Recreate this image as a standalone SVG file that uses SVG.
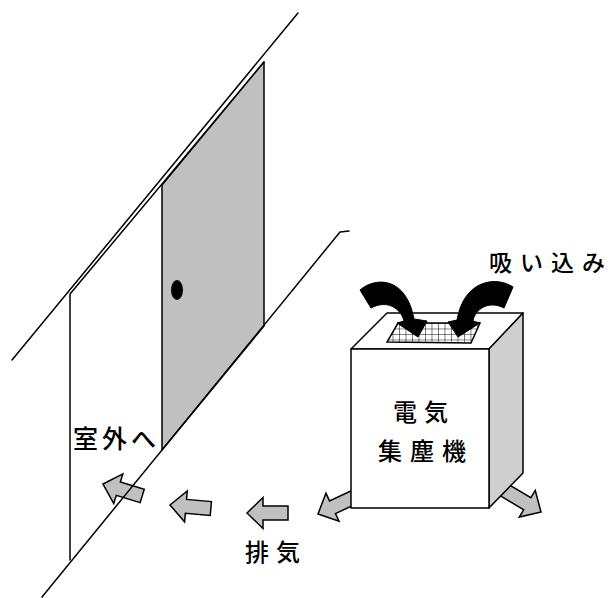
<svg xmlns="http://www.w3.org/2000/svg" width="612" height="598" viewBox="0 0 612 598">
  <style>
    .ln { fill: none; stroke: #000; stroke-width: 1.5; stroke-linecap: round; stroke-linejoin: round; }
    .door { fill: #c0c0c0; stroke: #000; stroke-width: 1.5; stroke-linejoin: round; }
    .face { fill: #fff; stroke: #000; stroke-width: 1.5; stroke-linejoin: round; }
    .side { fill: #cfcfcf; stroke: #000; stroke-width: 1.5; stroke-linejoin: round; }
    .exh { fill: #c0c0c0; stroke: #000; stroke-width: 1.5; stroke-linejoin: miter; }
    .suck { fill: #000; stroke: #000; stroke-width: 1; stroke-linejoin: miter; }
    .lbl { font-family: "Noto Sans CJK JP", "Noto Sans", sans-serif; font-weight: 500; fill: #000; }
  </style>
  <defs>
    <!-- block arrow, tip at origin, pointing toward -x -->
    <path id="blockArrow" d="M0,0 L16,-15.5 L16,-7 L41,-7 L41,7 L16,7 L16,15.5 Z"/>
    <path id="blockArrowLong" d="M0,0 L16,-15.5 L16,-7 L60,-7 L60,7 L16,7 L16,15.5 Z"/>
    <pattern id="mesh" patternUnits="userSpaceOnUse" width="6.5" height="5.5" x="386" y="323">
      <rect width="6.5" height="5.5" fill="#fff"/>
      <path d="M0,0 H6.5 M0,0 V5.5" stroke="#000" stroke-width="1" fill="none"/>
    </pattern>
  </defs>

  <!-- wall and doorway -->
  <g id="wall">
    <line class="ln" x1="298" y1="13" x2="12" y2="360"/>
    <polyline class="ln" points="264,62 70,294 70,560"/>
    <polygon class="door" points="162,185 264,62 264,326 162,450"/>
    <ellipse cx="177" cy="290" rx="6" ry="10" fill="#000"/>
  </g>

  <!-- exhaust flow arrows -->
  <g id="exhaust">
    <use href="#blockArrow" class="exh" transform="translate(103,484) rotate(17)"/>
    <use href="#blockArrow" class="exh" transform="translate(170,505) rotate(5)"/>
    <use href="#blockArrow" class="exh" transform="translate(247,513)"/>
    <use href="#blockArrowLong" class="exh" transform="translate(318,514) rotate(-25)"/>
    <use href="#blockArrowLong" class="exh" transform="translate(541,512) rotate(-149)"/>
  </g>

  <!-- floor line -->
  <g id="floor">
    <polyline class="ln" points="349,231 340,232 42,597"/>
  </g>

  <!-- electric dust collector -->
  <g id="collector">
    <polygon class="face" points="351,349 387,313 523,313 489,349"/>
    <polygon class="side" points="489,349 523,313 523,473 489,508"/>
    <rect class="face" x="351" y="349" width="138" height="159"/>
    <polygon points="398,323 480,323 471,343 387,342" fill="url(#mesh)" stroke="#000" stroke-width="1.5"/>
    <text class="lbl" x="393" y="421" font-size="24" letter-spacing="7">電気</text>
    <text class="lbl" x="378" y="460" font-size="24" letter-spacing="8">集塵機</text>
  </g>

  <!-- intake arrows -->
  <g id="intake">
    <path class="suck" d="M360,290 C375,277 406,276 414,319 L427,321 L418,337 L397,323 L404,321 C401,309 388,299 371,308 Z"/>
    <path class="suck" d="M513,287 C497,276 464,279 457,320 L448,322 L458,337 L480,323 L473,321 C475,309 489,300 504,308 Z"/>
  </g>

  <!-- labels -->
  <g id="labels">
    <text class="lbl" x="489" y="271" font-size="23" letter-spacing="8">吸い込み</text>
    <text class="lbl" x="73" y="448" font-size="25" letter-spacing="4">室外へ</text>
    <text class="lbl" x="245" y="561" font-size="24" letter-spacing="7">排気</text>
  </g>
</svg>
